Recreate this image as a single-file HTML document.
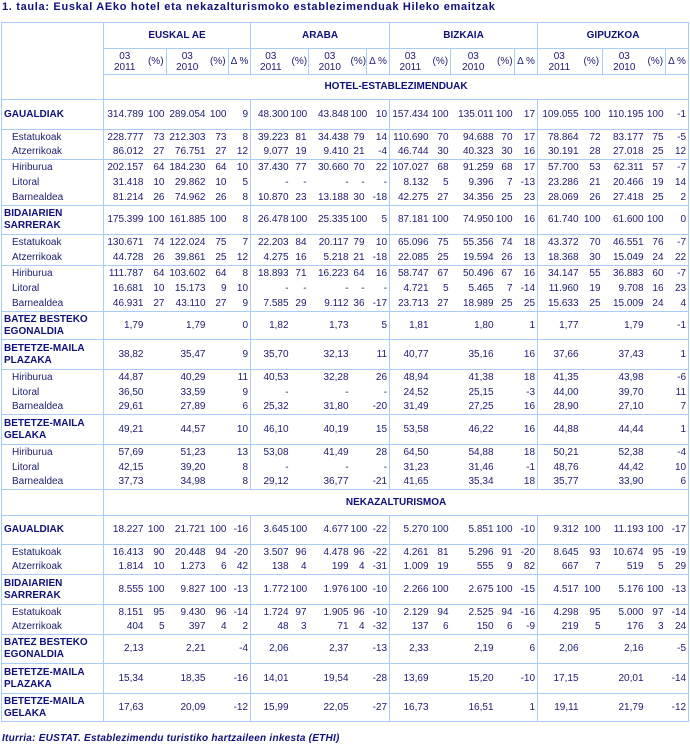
<!DOCTYPE html>
<html><head><meta charset="utf-8">
<style>
body{margin:0;background:#fff;width:690px;height:746px;overflow:hidden;font-family:"Liberation Sans",Arial,sans-serif;}
.title{position:absolute;left:2px;top:0px;font-size:11px;font-weight:bold;color:#10107a;line-height:14px;letter-spacing:0.68px;}
.foot{position:absolute;left:2px;top:732px;font-size:10px;font-weight:bold;font-style:italic;color:#10107a;line-height:13px;letter-spacing:0.25px;}
table{position:absolute;left:1px;top:22px;border-collapse:collapse;table-layout:fixed;width:687px;border:1px solid #a9cdf5;}
td{padding:0 2px 0 0;text-align:right;white-space:nowrap;font-size:10px;color:#1c1c70;line-height:12px;overflow:hidden;}
td.l{text-align:left;padding:0 0 0 10px;color:#1c1c70;}
td.b{text-align:left;padding:0 0 0 2px;font-weight:bold;color:#10107a;line-height:12px;}
tr.d td:nth-child(1),tr.d td:nth-child(6),tr.d td:nth-child(11),tr.d td:nth-child(16){border-right:1px solid #a9cdf5;}
tr.t td{border-top:1px solid #a9cdf5;}
.h{font-weight:bold;color:#10107a;text-align:center;padding:0;border:1px solid #a9cdf5;}
.h2 td{text-align:center;padding:0;line-height:11px;color:#1c1c70;}
.br{border-right:1px solid #a9cdf5;}
.bt{border-top:1px solid #a9cdf5;}
</style></head><body>
<div class="title">1. taula: Euskal AEko hotel eta nekazalturismoko establezimenduak Hileko emaitzak</div>
<table>
<colgroup><col style="width:102px">
<col style="width:42px"><col style="width:21px"><col style="width:41px"><col style="width:21px"><col style="width:22px">
<col style="width:40px"><col style="width:18px"><col style="width:42px"><col style="width:16px"><col style="width:23px">
<col style="width:41px"><col style="width:20px"><col style="width:45px"><col style="width:19px"><col style="width:23px">
<col style="width:43px"><col style="width:22px"><col style="width:43px"><col style="width:20px"><col style="width:23px">
</colgroup>
<tr style="height:26px"><td rowspan="3" class="br"></td><td colspan="5" class="h">EUSKAL AE</td><td colspan="5" class="h">ARABA</td><td colspan="5" class="h">BIZKAIA</td><td colspan="5" class="h">GIPUZKOA</td></tr>
<tr class="h2" style="height:26px">
<td class="bt">03<br>2011</td><td class="br bt">(%)</td><td class="bt">03<br>2010</td><td class="br bt">(%)</td><td class="br bt">Δ %</td>
<td class="bt">03<br>2011</td><td class="br bt">(%)</td><td class="bt">03<br>2010</td><td class="br bt">(%)</td><td class="br bt">Δ %</td>
<td class="bt">03<br>2011</td><td class="br bt">(%)</td><td class="bt">03<br>2010</td><td class="br bt">(%)</td><td class="br bt">Δ %</td>
<td class="bt">03<br>2011</td><td class="br bt">(%)</td><td class="bt">03<br>2010</td><td class="br bt">(%)</td><td class="br bt">Δ %</td></tr>
<tr style="height:25px"><td colspan="20" class="h">HOTEL-ESTABLEZIMENDUAK</td></tr>

<tr class="d t" style="height:30px"><td class="b">GAUALDIAK</td><td>314.789</td><td>100</td><td>289.054</td><td>100</td><td>9</td><td>48.300</td><td>100</td><td>43.848</td><td>100</td><td>10</td><td>157.434</td><td>100</td><td>135.011</td><td>100</td><td>17</td><td>109.055</td><td>100</td><td>110.195</td><td>100</td><td>-1</td></tr>
<tr class="d t" style="height:16px"><td class="l">Estatukoak</td><td>228.777</td><td>73</td><td>212.303</td><td>73</td><td>8</td><td>39.223</td><td>81</td><td>34.438</td><td>79</td><td>14</td><td>110.690</td><td>70</td><td>94.688</td><td>70</td><td>17</td><td>78.864</td><td>72</td><td>83.177</td><td>75</td><td>-5</td></tr>
<tr class="d" style="height:14px"><td class="l">Atzerrikoak</td><td>86.012</td><td>27</td><td>76.751</td><td>27</td><td>12</td><td>9.077</td><td>19</td><td>9.410</td><td>21</td><td>-4</td><td>46.744</td><td>30</td><td>40.323</td><td>30</td><td>16</td><td>30.191</td><td>28</td><td>27.018</td><td>25</td><td>12</td></tr>
<tr class="d t" style="height:16px"><td class="l">Hiriburua</td><td>202.157</td><td>64</td><td>184.230</td><td>64</td><td>10</td><td>37.430</td><td>77</td><td>30.660</td><td>70</td><td>22</td><td>107.027</td><td>68</td><td>91.259</td><td>68</td><td>17</td><td>57.700</td><td>53</td><td>62.311</td><td>57</td><td>-7</td></tr>
<tr class="d" style="height:15px"><td class="l">Litoral</td><td>31.418</td><td>10</td><td>29.862</td><td>10</td><td>5</td><td>-</td><td>-</td><td>-</td><td>-</td><td>-</td><td>8.132</td><td>5</td><td>9.396</td><td>7</td><td>-13</td><td>23.286</td><td>21</td><td>20.466</td><td>19</td><td>14</td></tr>
<tr class="d" style="height:15px"><td class="l">Barnealdea</td><td>81.214</td><td>26</td><td>74.962</td><td>26</td><td>8</td><td>10.870</td><td>23</td><td>13.188</td><td>30</td><td>-18</td><td>42.275</td><td>27</td><td>34.356</td><td>25</td><td>23</td><td>28.069</td><td>26</td><td>27.418</td><td>25</td><td>2</td></tr>
<tr class="d t" style="height:29px"><td class="b">BIDAIARIEN<br>SARRERAK</td><td>175.399</td><td>100</td><td>161.885</td><td>100</td><td>8</td><td>26.478</td><td>100</td><td>25.335</td><td>100</td><td>5</td><td>87.181</td><td>100</td><td>74.950</td><td>100</td><td>16</td><td>61.740</td><td>100</td><td>61.600</td><td>100</td><td>0</td></tr>
<tr class="d t" style="height:16px"><td class="l">Estatukoak</td><td>130.671</td><td>74</td><td>122.024</td><td>75</td><td>7</td><td>22.203</td><td>84</td><td>20.117</td><td>79</td><td>10</td><td>65.096</td><td>75</td><td>55.356</td><td>74</td><td>18</td><td>43.372</td><td>70</td><td>46.551</td><td>76</td><td>-7</td></tr>
<tr class="d" style="height:15px"><td class="l">Atzerrikoak</td><td>44.728</td><td>26</td><td>39.861</td><td>25</td><td>12</td><td>4.275</td><td>16</td><td>5.218</td><td>21</td><td>-18</td><td>22.085</td><td>25</td><td>19.594</td><td>26</td><td>13</td><td>18.368</td><td>30</td><td>15.049</td><td>24</td><td>22</td></tr>
<tr class="d t" style="height:16px"><td class="l">Hiriburua</td><td>111.787</td><td>64</td><td>103.602</td><td>64</td><td>8</td><td>18.893</td><td>71</td><td>16.223</td><td>64</td><td>16</td><td>58.747</td><td>67</td><td>50.496</td><td>67</td><td>16</td><td>34.147</td><td>55</td><td>36.883</td><td>60</td><td>-7</td></tr>
<tr class="d" style="height:15px"><td class="l">Litoral</td><td>16.681</td><td>10</td><td>15.173</td><td>9</td><td>10</td><td>-</td><td>-</td><td>-</td><td>-</td><td>-</td><td>4.721</td><td>5</td><td>5.465</td><td>7</td><td>-14</td><td>11.960</td><td>19</td><td>9.708</td><td>16</td><td>23</td></tr>
<tr class="d" style="height:15px"><td class="l">Barnealdea</td><td>46.931</td><td>27</td><td>43.110</td><td>27</td><td>9</td><td>7.585</td><td>29</td><td>9.112</td><td>36</td><td>-17</td><td>23.713</td><td>27</td><td>18.989</td><td>25</td><td>25</td><td>15.633</td><td>25</td><td>15.009</td><td>24</td><td>4</td></tr>
<tr class="d t" style="height:28px"><td class="b">BATEZ BESTEKO<br>EGONALDIA</td><td>1,79</td><td></td><td>1,79</td><td></td><td>0</td><td>1,82</td><td></td><td>1,73</td><td></td><td>5</td><td>1,81</td><td></td><td>1,80</td><td></td><td>1</td><td>1,77</td><td></td><td>1,79</td><td></td><td>-1</td></tr>
<tr class="d t" style="height:30px"><td class="b">BETETZE-MAILA<br>PLAZAKA</td><td>38,82</td><td></td><td>35,47</td><td></td><td>9</td><td>35,70</td><td></td><td>32,13</td><td></td><td>11</td><td>40,77</td><td></td><td>35,16</td><td></td><td>16</td><td>37,66</td><td></td><td>37,43</td><td></td><td>1</td></tr>
<tr class="d t" style="height:16px"><td class="l">Hiriburua</td><td>44,87</td><td></td><td>40,29</td><td></td><td>11</td><td>40,53</td><td></td><td>32,28</td><td></td><td>26</td><td>48,94</td><td></td><td>41,38</td><td></td><td>18</td><td>41,35</td><td></td><td>43,98</td><td></td><td>-6</td></tr>
<tr class="d" style="height:15px"><td class="l">Litoral</td><td>36,50</td><td></td><td>33,59</td><td></td><td>9</td><td>-</td><td></td><td>-</td><td></td><td>-</td><td>24,52</td><td></td><td>25,15</td><td></td><td>-3</td><td>44,00</td><td></td><td>39,70</td><td></td><td>11</td></tr>
<tr class="d" style="height:14px"><td class="l">Barnealdea</td><td>29,61</td><td></td><td>27,89</td><td></td><td>6</td><td>25,32</td><td></td><td>31,80</td><td></td><td>-20</td><td>31,49</td><td></td><td>27,25</td><td></td><td>16</td><td>28,90</td><td></td><td>27,10</td><td></td><td>7</td></tr>
<tr class="d t" style="height:30px"><td class="b">BETETZE-MAILA<br>GELAKA</td><td>49,21</td><td></td><td>44,57</td><td></td><td>10</td><td>46,10</td><td></td><td>40,19</td><td></td><td>15</td><td>53,58</td><td></td><td>46,22</td><td></td><td>16</td><td>44,88</td><td></td><td>44,44</td><td></td><td>1</td></tr>
<tr class="d t" style="height:16px"><td class="l">Hiriburua</td><td>57,69</td><td></td><td>51,23</td><td></td><td>13</td><td>53,08</td><td></td><td>41,49</td><td></td><td>28</td><td>64,50</td><td></td><td>54,88</td><td></td><td>18</td><td>50,21</td><td></td><td>52,38</td><td></td><td>-4</td></tr>
<tr class="d" style="height:15px"><td class="l">Litoral</td><td>42,15</td><td></td><td>39,20</td><td></td><td>8</td><td>-</td><td></td><td>-</td><td></td><td>-</td><td>31,23</td><td></td><td>31,46</td><td></td><td>-1</td><td>48,76</td><td></td><td>44,42</td><td></td><td>10</td></tr>
<tr class="d" style="height:14px"><td class="l">Barnealdea</td><td>37,73</td><td></td><td>34,98</td><td></td><td>8</td><td>29,12</td><td></td><td>36,77</td><td></td><td>-21</td><td>41,65</td><td></td><td>35,34</td><td></td><td>18</td><td>35,77</td><td></td><td>33,90</td><td></td><td>6</td></tr>

<tr style="height:26px"><td class="br bt"></td><td colspan="20" class="h">NEKAZALTURISMOA</td></tr>

<tr class="d t" style="height:29px"><td class="b">GAUALDIAK</td><td>18.227</td><td>100</td><td>21.721</td><td>100</td><td>-16</td><td>3.645</td><td>100</td><td>4.677</td><td>100</td><td>-22</td><td>5.270</td><td>100</td><td>5.851</td><td>100</td><td>-10</td><td>9.312</td><td>100</td><td>11.193</td><td>100</td><td>-17</td></tr>
<tr class="d t" style="height:16px"><td class="l">Estatukoak</td><td>16.413</td><td>90</td><td>20.448</td><td>94</td><td>-20</td><td>3.507</td><td>96</td><td>4.478</td><td>96</td><td>-22</td><td>4.261</td><td>81</td><td>5.296</td><td>91</td><td>-20</td><td>8.645</td><td>93</td><td>10.674</td><td>95</td><td>-19</td></tr>
<tr class="d" style="height:14px"><td class="l">Atzerrikoak</td><td>1.814</td><td>10</td><td>1.273</td><td>6</td><td>42</td><td>138</td><td>4</td><td>199</td><td>4</td><td>-31</td><td>1.009</td><td>19</td><td>555</td><td>9</td><td>82</td><td>667</td><td>7</td><td>519</td><td>5</td><td>29</td></tr>
<tr class="d t" style="height:30px"><td class="b">BIDAIARIEN<br>SARRERAK</td><td>8.555</td><td>100</td><td>9.827</td><td>100</td><td>-13</td><td>1.772</td><td>100</td><td>1.976</td><td>100</td><td>-10</td><td>2.266</td><td>100</td><td>2.675</td><td>100</td><td>-15</td><td>4.517</td><td>100</td><td>5.176</td><td>100</td><td>-13</td></tr>
<tr class="d t" style="height:16px"><td class="l">Estatukoak</td><td>8.151</td><td>95</td><td>9.430</td><td>96</td><td>-14</td><td>1.724</td><td>97</td><td>1.905</td><td>96</td><td>-10</td><td>2.129</td><td>94</td><td>2.525</td><td>94</td><td>-16</td><td>4.298</td><td>95</td><td>5.000</td><td>97</td><td>-14</td></tr>
<tr class="d" style="height:14px"><td class="l">Atzerrikoak</td><td>404</td><td>5</td><td>397</td><td>4</td><td>2</td><td>48</td><td>3</td><td>71</td><td>4</td><td>-32</td><td>137</td><td>6</td><td>150</td><td>6</td><td>-9</td><td>219</td><td>5</td><td>176</td><td>3</td><td>24</td></tr>
<tr class="d t" style="height:29px"><td class="b">BATEZ BESTEKO<br>EGONALDIA</td><td>2,13</td><td></td><td>2,21</td><td></td><td>-4</td><td>2,06</td><td></td><td>2,37</td><td></td><td>-13</td><td>2,33</td><td></td><td>2,19</td><td></td><td>6</td><td>2,06</td><td></td><td>2,16</td><td></td><td>-5</td></tr>
<tr class="d t" style="height:30px"><td class="b">BETETZE-MAILA<br>PLAZAKA</td><td>15,34</td><td></td><td>18,35</td><td></td><td>-16</td><td>14,01</td><td></td><td>19,54</td><td></td><td>-28</td><td>13,69</td><td></td><td>15,20</td><td></td><td>-10</td><td>17,15</td><td></td><td>20,01</td><td></td><td>-14</td></tr>
<tr class="d t" style="height:28px"><td class="b">BETETZE-MAILA<br>GELAKA</td><td>17,63</td><td></td><td>20,09</td><td></td><td>-12</td><td>15,99</td><td></td><td>22,05</td><td></td><td>-27</td><td>16,73</td><td></td><td>16,51</td><td></td><td>1</td><td>19,11</td><td></td><td>21,79</td><td></td><td>-12</td></tr>
</table>
<div class="foot">Iturria: EUSTAT. Establezimendu turistiko hartzaileen inkesta (ETHI)</div>
</body></html>
